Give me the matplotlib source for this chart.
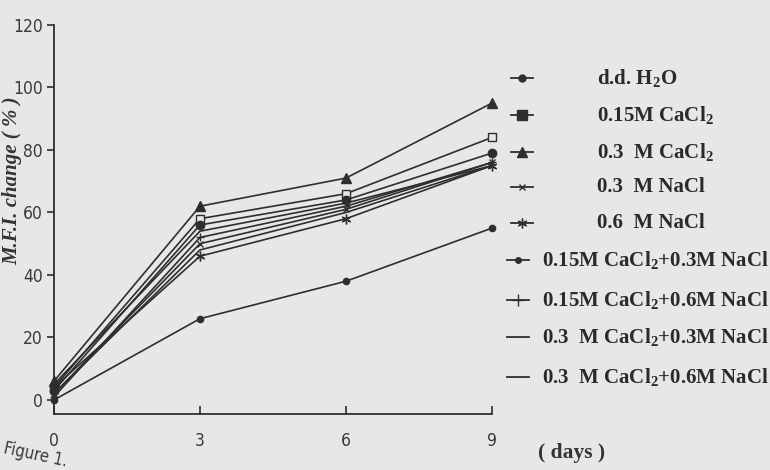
import numpy as np
import matplotlib
matplotlib.use("Agg")
import matplotlib.pyplot as plt
from matplotlib.lines import Line2D

plt.rcParams["mathtext.fontset"] = "custom"
plt.rcParams["mathtext.rm"] = "Liberation Serif:bold"
plt.rcParams["mathtext.bf"] = "Liberation Serif:bold"
plt.rcParams["mathtext.default"] = "bf"

# Data (M.F.I. change, %)
days = [0, 3, 6, 9]
labels = [r"d.d. H$_2$O",
          r"0.15M CaCl$_2$",
          r"0.3  M CaCl$_2$",
          "0.3  M NaCl",
          "0.6  M NaCl",
          r"0.15M CaCl$_2$+0.3M NaCl",
          r"0.15M CaCl$_2$+0.6M NaCl",
          r"0.3  M CaCl$_2$+0.3M NaCl",
          r"0.3  M CaCl$_2$+0.6M NaCl"]
h2o = [0, 26, 38, 55]
ca015 = [4, 58, 66, 84]
ca03 = [6, 62, 71, 95]
na03 = [2, 50, 61, 76]
na06 = [4, 46, 58, 75]
ca015_na03 = [3, 56, 64, 79]
ca015_na06 = [1, 52, 62, 76]
ca03_na03 = [5, 54, 63, 75]
ca03_na06 = [2, 48, 60, 75]
series = [h2o, ca015, ca03, na03, na06, ca015_na03, ca015_na06, ca03_na03, ca03_na06]

yticks = [0, 20, 40, 60, 80, 100, 120]
xticks = [0, 3, 6, 9]

ink = "#2e2e2e"
bg = "#e7e7e5"
# marker, size, face
styles = [("o", 4.5, ink), ("s", 6, bg), ("^", 6.5, ink), ("x", 4.5, ink),
          ((6, 2, 0), 7, ink), ("o", 6, ink), ("+", 6, ink), (None, 0, ink), (None, 0, ink)]
leg_styles = [("o", 5, ink), ("s", 6.5, ink), ("^", 6.5, ink), ("x", 4, ink),
              ((6, 2, 0), 7, ink), ("o", 4, ink), ("+", 8, ink), (None, 0, ink), (None, 0, ink)]

fig = plt.figure(figsize=(7.7, 4.7), dpi=100, facecolor=bg)
ax = fig.add_axes([0.07, 0.119, 0.569, 0.828])
ax.set_facecolor(bg)

for vals, (m, ms, fc) in zip(series, styles):
    ax.plot(days, vals, color=ink, lw=1.2, marker=m, markersize=ms,
            markerfacecolor=fc, markeredgecolor=ink, clip_on=False)

ax.set_xlim(0, 9)
ax.set_ylim(-4.5, 120)
ax.spines["top"].set_visible(False)
ax.spines["right"].set_visible(False)
for s in ("left", "bottom"):
    ax.spines[s].set_color(ink)
    ax.spines[s].set_linewidth(1.3)

tick_font = dict(family="DejaVu Sans", stretch="condensed", size=12.5)
ax.set_yticks(yticks)
ax.set_yticklabels([str(v) for v in yticks], fontdict=tick_font, color="#3a3a3a")
ax.set_xticks(xticks)
ax.set_xticklabels([str(v) for v in xticks], fontdict=tick_font, color="#3a3a3a")
ax.tick_params(axis="y", direction="out", length=5, width=1.2, color=ink, pad=3)
ax.tick_params(axis="x", direction="in", length=6, width=1.2, color=ink, pad=13)

ax.set_ylabel("M.F.I. change ( % )", family="Liberation Serif", weight="bold",
              style="italic", size=15, color="#333333")
ax.yaxis.set_label_coords(-0.073, 0.6)
fig.text(0.742, 0.036, "( days )", family="Liberation Serif", weight="bold",
         size=15.5, color="#333333", ha="center", va="center")
fig.text(0.003, 0.0, "Figure 1.", family="DejaVu Sans", stretch="condensed",
         size=12, color="#3a3a3a", rotation=-12, ha="left", va="bottom")

# Hand-placed legend like the original
leg_y = [78, 115, 152, 187, 223, 260, 300, 337, 377]
for i, (lab, (m, ms, fc)) in enumerate(zip(labels, leg_styles)):
    yf = 1 - leg_y[i] / 470
    x0, x1 = (511, 533) if i < 5 else (507, 529)
    fig.add_artist(Line2D([x0 / 770, x1 / 770], [yf, yf], transform=fig.transFigure,
                          color=ink, lw=1.3))
    if m is not None:
        fig.add_artist(Line2D([(x0 + x1) / 2 / 770], [yf], transform=fig.transFigure,
                              marker=m, markersize=ms, markerfacecolor=fc,
                              markeredgecolor=ink, color=ink, lw=0))
    tx = 597 if i < 5 else 542
    fig.text(tx / 770, yf, lab, family="Liberation Serif", weight="bold",
             size=15, color="#2a2a2a", ha="left", va="center")

fig.savefig("out.png", dpi=100, facecolor=bg)
